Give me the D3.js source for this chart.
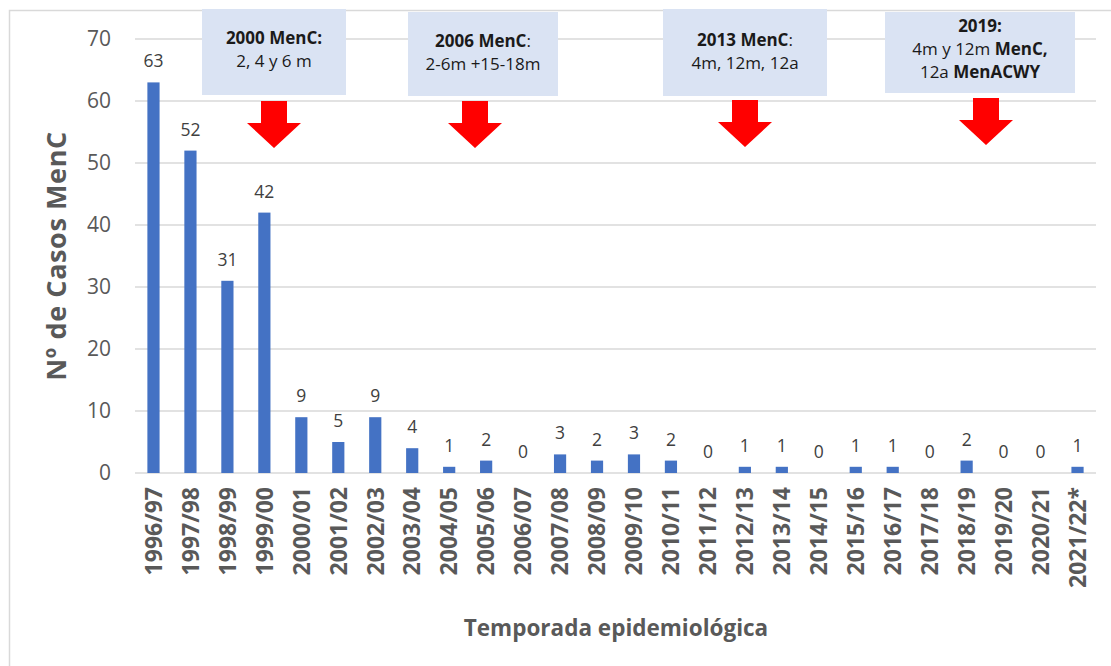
<!DOCTYPE html>
<html>
<head>
<meta charset="utf-8">
<script src="https://cdn.jsdelivr.net/npm/d3@7"></script>
<style>
  body { margin: 0; background: #fff; }
  svg text { font-family: "Open Sans", "DejaVu Sans", sans-serif; }
</style>
</head>
<body>
<svg id="chart"></svg>
<script>
// temporadas y casos MenC
var seasons = ["1996/97","1997/98","1998/99","1999/00","2000/01","2001/02","2002/03","2003/04",
  "2004/05","2005/06","2006/07","2007/08","2008/09","2009/10","2010/11","2011/12","2012/13",
  "2013/14","2014/15","2015/16","2016/17","2017/18","2018/19","2019/20","2020/21","2021/22*"];
var cases = [63,52,31,42,9,5,9,4,1,2,0,3,2,3,2,0,1,1,0,1,1,0,2,0,0,1];
var yTicks = [0,10,20,30,40,50,60,70];

// cuadros de vacunacion: lineas de texto, cada linea = lista de [texto, negrita]
var noteLines = [
  [[["2000 MenC:", true]], [["2, 4 y 6 m", false]]],
  [[["2006 MenC", true], [":", false]], [["2-6m +15-18m", false]]],
  [[["2013 MenC", true], [":", false]], [["4m, 12m, 12a", false]]],
  [[["2019:", true]], [["4m y 12m ", false], ["MenC,", true]], [["12a ", false], ["MenACWY", true]]]
];

var width = 1111, height = 666,
  margin = {left: 135, right: 15, top: 39, bottom: 193};

var svg = d3.select("#chart").attr("width", width).attr("height", height);

// marco del grafico
svg.append("path")
  .attr("d", "M9.5," + height + "V10.5H" + width)
  .attr("fill", "none").attr("stroke", "#d9d9d9").attr("stroke-width", 1.5);

var x = d3.scaleBand().domain(seasons)
  .range([margin.left, width - margin.right])
  .paddingInner(0.67).paddingOuter(0.335);

var y = d3.scaleLinear().domain([0, 70]).range([height - margin.bottom, margin.top]);

// lineas de cuadricula
svg.append("g").selectAll("line")
  .data(yTicks).enter().append("line")
  .attr("x1", margin.left).attr("x2", width - margin.right)
  .attr("y1", function(d){ return y(d) }).attr("y2", function(d){ return y(d) })
  .attr("stroke", "#d9d9d9").attr("stroke-width", 1.3);

// eje y
var yAxis = svg.append("g")
  .attr("transform", "translate(" + 111 + ",0)")
  .call(d3.axisLeft(y).tickValues(yTicks).tickSize(0).tickPadding(0));
yAxis.select(".domain").remove();
yAxis.selectAll("text")
  .attr("font-size", "21px").attr("fill", "#595959")
  .style("font-family", "'Open Sans', sans-serif");

// barras
svg.append("g").selectAll("rect")
  .data(cases).enter().append("rect")
  .attr("x", function(d, i){ return x(seasons[i]) })
  .attr("width", x.bandwidth())
  .attr("y", function(d){ return y(d) })
  .attr("height", function(d){ return y(0) - y(d) })
  .attr("fill", "#4472c4");

// etiquetas de datos
svg.append("g").selectAll("text")
  .data(cases).enter().append("text")
  .attr("x", function(d, i){ return x(seasons[i]) + x.bandwidth()/2 })
  .attr("y", function(d){ return y(d) - 15 })
  .attr("text-anchor", "middle")
  .attr("font-size", "17.5px").attr("fill", "#404040")
  .text(function(d){ return d });

// eje x
var xAxis = svg.append("g")
  .attr("transform", "translate(0," + (y(0) + 14) + ")")
  .call(d3.axisBottom(x).tickSize(0).tickPadding(0));
xAxis.select(".domain").remove();
xAxis.selectAll("text")
  .attr("transform", "rotate(-90)")
  .attr("text-anchor", "end")
  .attr("x", 0).attr("y", 0).attr("dy", "0.36em")
  .attr("font-size", "23px").attr("font-weight", "bold").attr("fill", "#595959")
  .style("font-family", "'Open Sans', sans-serif");

// titulos de ejes
svg.append("text")
  .attr("x", 616).attr("y", 636)
  .attr("text-anchor", "middle")
  .attr("font-size", "22.5px").attr("font-weight", "bold").attr("fill", "#595959")
  .text("Temporada epidemiológica");

svg.append("text")
  .attr("transform", "translate(66,256)rotate(-90)")
  .attr("text-anchor", "middle")
  .attr("font-size", "27px").attr("font-weight", "bold").attr("fill", "#595959")
  .attr("letter-spacing", "0.6px")
  .text("Nº de Casos MenC");

// cuadros y flechas
var boxes = [
  {x: 202, y: 9, w: 144, h: 86, ax: 274, ay: 101, firstY: 44},
  {x: 408, y: 12, w: 150, h: 84, ax: 475, ay: 101, firstY: 47},
  {x: 663, y: 9, w: 164, h: 87, ax: 745, ay: 100, firstY: 46},
  {x: 885, y: 12, w: 190, h: 81, ax: 986, ay: 98, firstY: 32}
];

var notes = svg.append("g").selectAll("g")
  .data(boxes).enter().append("g");

notes.append("rect")
  .attr("x", function(d){ return d.x }).attr("y", function(d){ return d.y })
  .attr("width", function(d){ return d.w }).attr("height", function(d){ return d.h })
  .attr("fill", "#dae3f3");

notes.append("path")
  .attr("d", function(d){
    var cx = d.ax, t = d.ay;
    return "M" + (cx-13) + "," + t + "H" + (cx+13) + "V" + (t+22) + "H" + (cx+27) +
      "L" + cx + "," + (t+47) + "L" + (cx-27) + "," + (t+22) + "H" + (cx-13) + "Z";
  })
  .attr("fill", "#ff0000");

notes.each(function(d, i){
  var g = d3.select(this);
  noteLines[i].forEach(function(line, j){
    var t = g.append("text")
      .attr("x", d.x + d.w/2)
      .attr("y", d.firstY + j*23)
      .attr("text-anchor", "middle")
      .attr("font-size", "17px").attr("fill", "#1a1a1a");
    line.forEach(function(part){
      t.append("tspan")
        .attr("font-weight", part[1] ? "bold" : "normal")
        .text(part[0]);
    });
  });
});
</script>
</body>
</html>
